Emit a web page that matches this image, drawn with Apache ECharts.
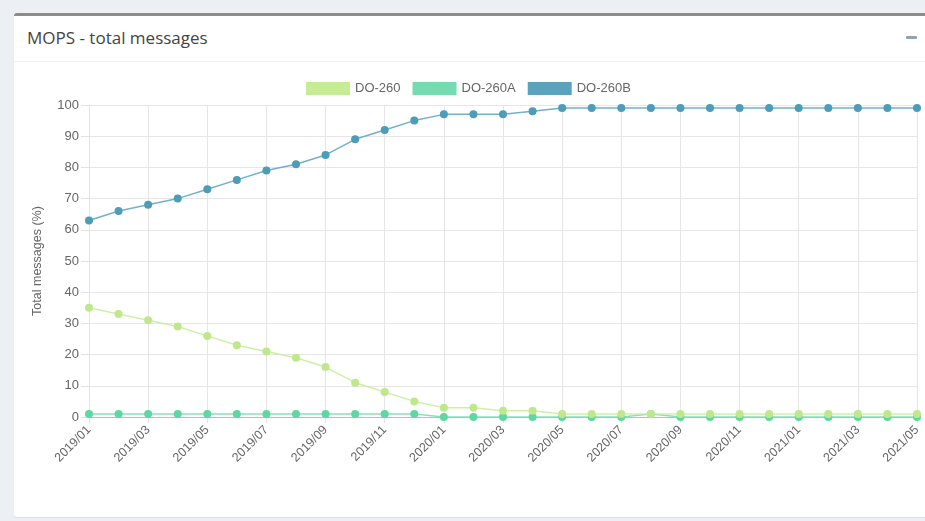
<!DOCTYPE html>
<html>
<head>
<meta charset="utf-8">
<script src="https://cdn.jsdelivr.net/npm/echarts@6/dist/echarts.min.js"></script>
<style>
  html, body { margin: 0; padding: 0; width: 925px; height: 521px; overflow: hidden; background: #eceff4; }
  .panel { position: absolute; left: 14px; top: 13px; width: 940px; height: 501px; background: #fff;
           border-top: 3px solid #8c8c8c; border-radius: 3px; box-shadow: 0 1px 1px rgba(0,0,0,0.08); }
  .panel .title { position: absolute; left: 13px; top: 10px; font-family: "Open Sans", sans-serif; font-size: 17px; color: #444; }
  .panel .sep { position: absolute; left: 0; right: 0; top: 45px; border-top: 1px solid #f2f2f2; }
  .panel .minus { position: absolute; left: 892px; top: 20px; width: 11px; height: 3px; background: #97a0b3; border-radius: 1px; }
  #chart { position: absolute; left: 0; top: 0; width: 925px; height: 521px; }
</style>
</head>
<body>
<div class="panel">
  <div class="title">MOPS - total messages</div>
  <div class="minus"></div>
  <div class="sep"></div>
</div>
<div id="chart"></div>
<script>
const months = ["2019/01","2019/02","2019/03","2019/04","2019/05","2019/06","2019/07","2019/08","2019/09","2019/10","2019/11","2019/12",
  "2020/01","2020/02","2020/03","2020/04","2020/05","2020/06","2020/07","2020/08","2020/09","2020/10","2020/11","2020/12",
  "2021/01","2021/02","2021/03","2021/04","2021/05"];
const do260  = [35,33,31,29,26,23,21,19,16,11,8,5,3,3,2,2,1,1,1,1,1,1,1,1,1,1,1,1,1];
const do260a = [1,1,1,1,1,1,1,1,1,1,1,1,0,0,0,0,0,0,0,1,0,0,0,0,0,0,0,0,0];
const do260b = [63,66,68,70,73,76,79,81,84,89,92,95,97,97,97,98,99,99,99,99,99,99,99,99,99,99,99,99,99];

const names = ["DO-260", "DO-260A", "DO-260B"];
const boxColors = ["#c6ed96", "#74dcb0", "#5ba3bd"];
const pointColors = ["#bfe88c", "#5fd7a2", "#4c9cba"];
const values = [do260, do260a, do260b];

const font = "Liberation Sans, Arial";
const chart = echarts.init(document.getElementById("chart"));

const series = names.map((n, i) => ({
  name: n,
  type: "line",
  data: values[i],
  symbol: "circle",
  symbolSize: 8,
  itemStyle: { color: pointColors[i] },
  lineStyle: { color: boxColors[i], width: 1.5, opacity: 0.85 },
  z: 3 - i
}));

chart.setOption({
  animation: false,
  color: boxColors,
  legend: {
    top: 77, left: 301,
    itemWidth: 44, itemHeight: 13, itemGap: 12,
    icon: "rect",
    textStyle: { color: "#666", fontSize: 13, fontFamily: font },
    data: names.map((n, i) => ({ name: n, itemStyle: { color: boxColors[i] } }))
  },
  grid: { left: 89, right: 8, top: 105, bottom: 104 },
  xAxis: {
    type: "category",
    data: months,
    boundaryGap: false,
    axisLine: { show: true, lineStyle: { color: "#bdbdbd", width: 1 } },
    axisTick: { show: true, interval: 1, length: 6, lineStyle: { color: "#e3e3e3" } },
    axisLabel: { interval: 1, rotate: 45, color: "#666", fontSize: 12.5, fontFamily: font, margin: 11 },
    splitLine: { show: true, interval: 1, lineStyle: { color: "#e6e6e6" } }
  },
  yAxis: {
    type: "value",
    min: 0, max: 100, interval: 10,
    name: "Total messages (%)",
    nameLocation: "middle",
    nameGap: 45,
    nameTextStyle: { color: "#666", fontSize: 12.5, fontFamily: font },
    axisLine: { show: true, lineStyle: { color: "#e3e3e3" } },
    axisTick: { show: true, length: 8, lineStyle: { color: "#e3e3e3" } },
    axisLabel: { color: "#666", fontSize: 13, fontFamily: font, margin: 10 },
    splitLine: { show: true, lineStyle: { color: "#e6e6e6" } }
  },
  series: series
});
</script>
</body>
</html>
